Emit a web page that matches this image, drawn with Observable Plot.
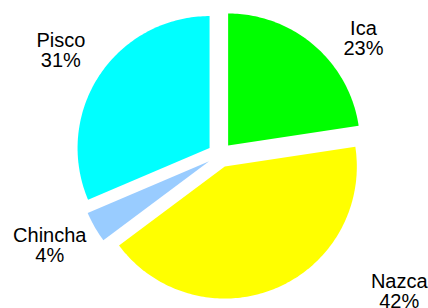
<!DOCTYPE html>
<html>
<head>
<meta charset="utf-8">
<script src="https://cdn.jsdelivr.net/npm/d3@7"></script>
<script src="https://cdn.jsdelivr.net/npm/@observablehq/plot@0.6"></script>
<style>
  html, body { margin: 0; padding: 0; background: #ffffff; overflow: hidden; }
  #chart svg { display: block; }
</style>
</head>
<body>
<div id="chart"></div>
<script>
// Data (shares, percent)
const regions = ["Ica", "Nazca", "Chincha", "Pisco"];
const shares = [22.6, 42.2, 3.8, 31.4];
const percentLabels = ["23%", "42%", "4%", "31%"];
const sliceColors = ["#00ff00", "#ffff00", "#99ccff", "#00ffff"];

// label nudges (pixels) relative to a radial anchor, like Excel's label placement
const labelNudge = [
  {dx: 23, dy: 24},
  {dx: 108, dy: -34},
  {dx: -10, dy: -1},
  {dx: -5, dy: -2}
];

const W = 428, H = 308;
const cx = 219.5, cy = 154.5, R = 132;   // pixel layout of the pie
const explode = 12.5 / R;                  // explosion in radius units
const labelRadius = 1.4;

const pie = d3.pie().sort(null).value(d => d.share);
const rows = regions.map((name, i) => ({name, share: shares[i], label: `${name}\n${percentLabels[i]}`, i}));
const arcs = pie(rows);

// polygon points for each slice (unit radius, y up)
const pts = [];
const labels = [];
for (const a of arcs) {
  const mid = (a.startAngle + a.endAngle) / 2;
  const ox = explode * Math.sin(mid), oy = explode * Math.cos(mid);
  pts.push({name: a.data.name, x: ox, y: oy});
  const n = Math.max(4, Math.ceil((a.endAngle - a.startAngle) / (Math.PI / 180)));
  for (let k = 0; k <= n; ++k) {
    const t = a.startAngle + (a.endAngle - a.startAngle) * k / n;
    pts.push({name: a.data.name, x: ox + Math.sin(t), y: oy + Math.cos(t)});
  }
  pts.push({name: a.data.name, x: ox, y: oy});
  labels.push({
    label: a.data.label,
    x: labelRadius * Math.sin(mid),
    y: labelRadius * Math.cos(mid),
    dx: labelNudge[a.data.i].dx,
    dy: labelNudge[a.data.i].dy
  });
}

const marks = [
  Plot.line(pts, {x: "x", y: "y", z: "name", fill: "name", stroke: "none", curve: "linear"})
];
for (const l of labels) {
  marks.push(Plot.text([l], {
    x: "x", y: "y", text: "label", dx: l.dx, dy: l.dy,
    lineAnchor: "middle", textAnchor: "middle", lineHeight: 1.0,
    fontSize: 20, fill: "#000000"
  }));
}

const chart = Plot.plot({
  width: W,
  height: H,
  margin: 0,
  style: {background: "#ffffff", fontFamily: "'Liberation Sans', Arial, sans-serif", overflow: "hidden"},
  x: {domain: [-cx / R, (W - cx) / R], range: [0, W], axis: null},
  y: {domain: [-(H - cy) / R, cy / R], range: [H, 0], axis: null},
  color: {domain: regions, range: sliceColors},
  marks
});
document.getElementById("chart").appendChild(chart);
</script>
</body>
</html>
